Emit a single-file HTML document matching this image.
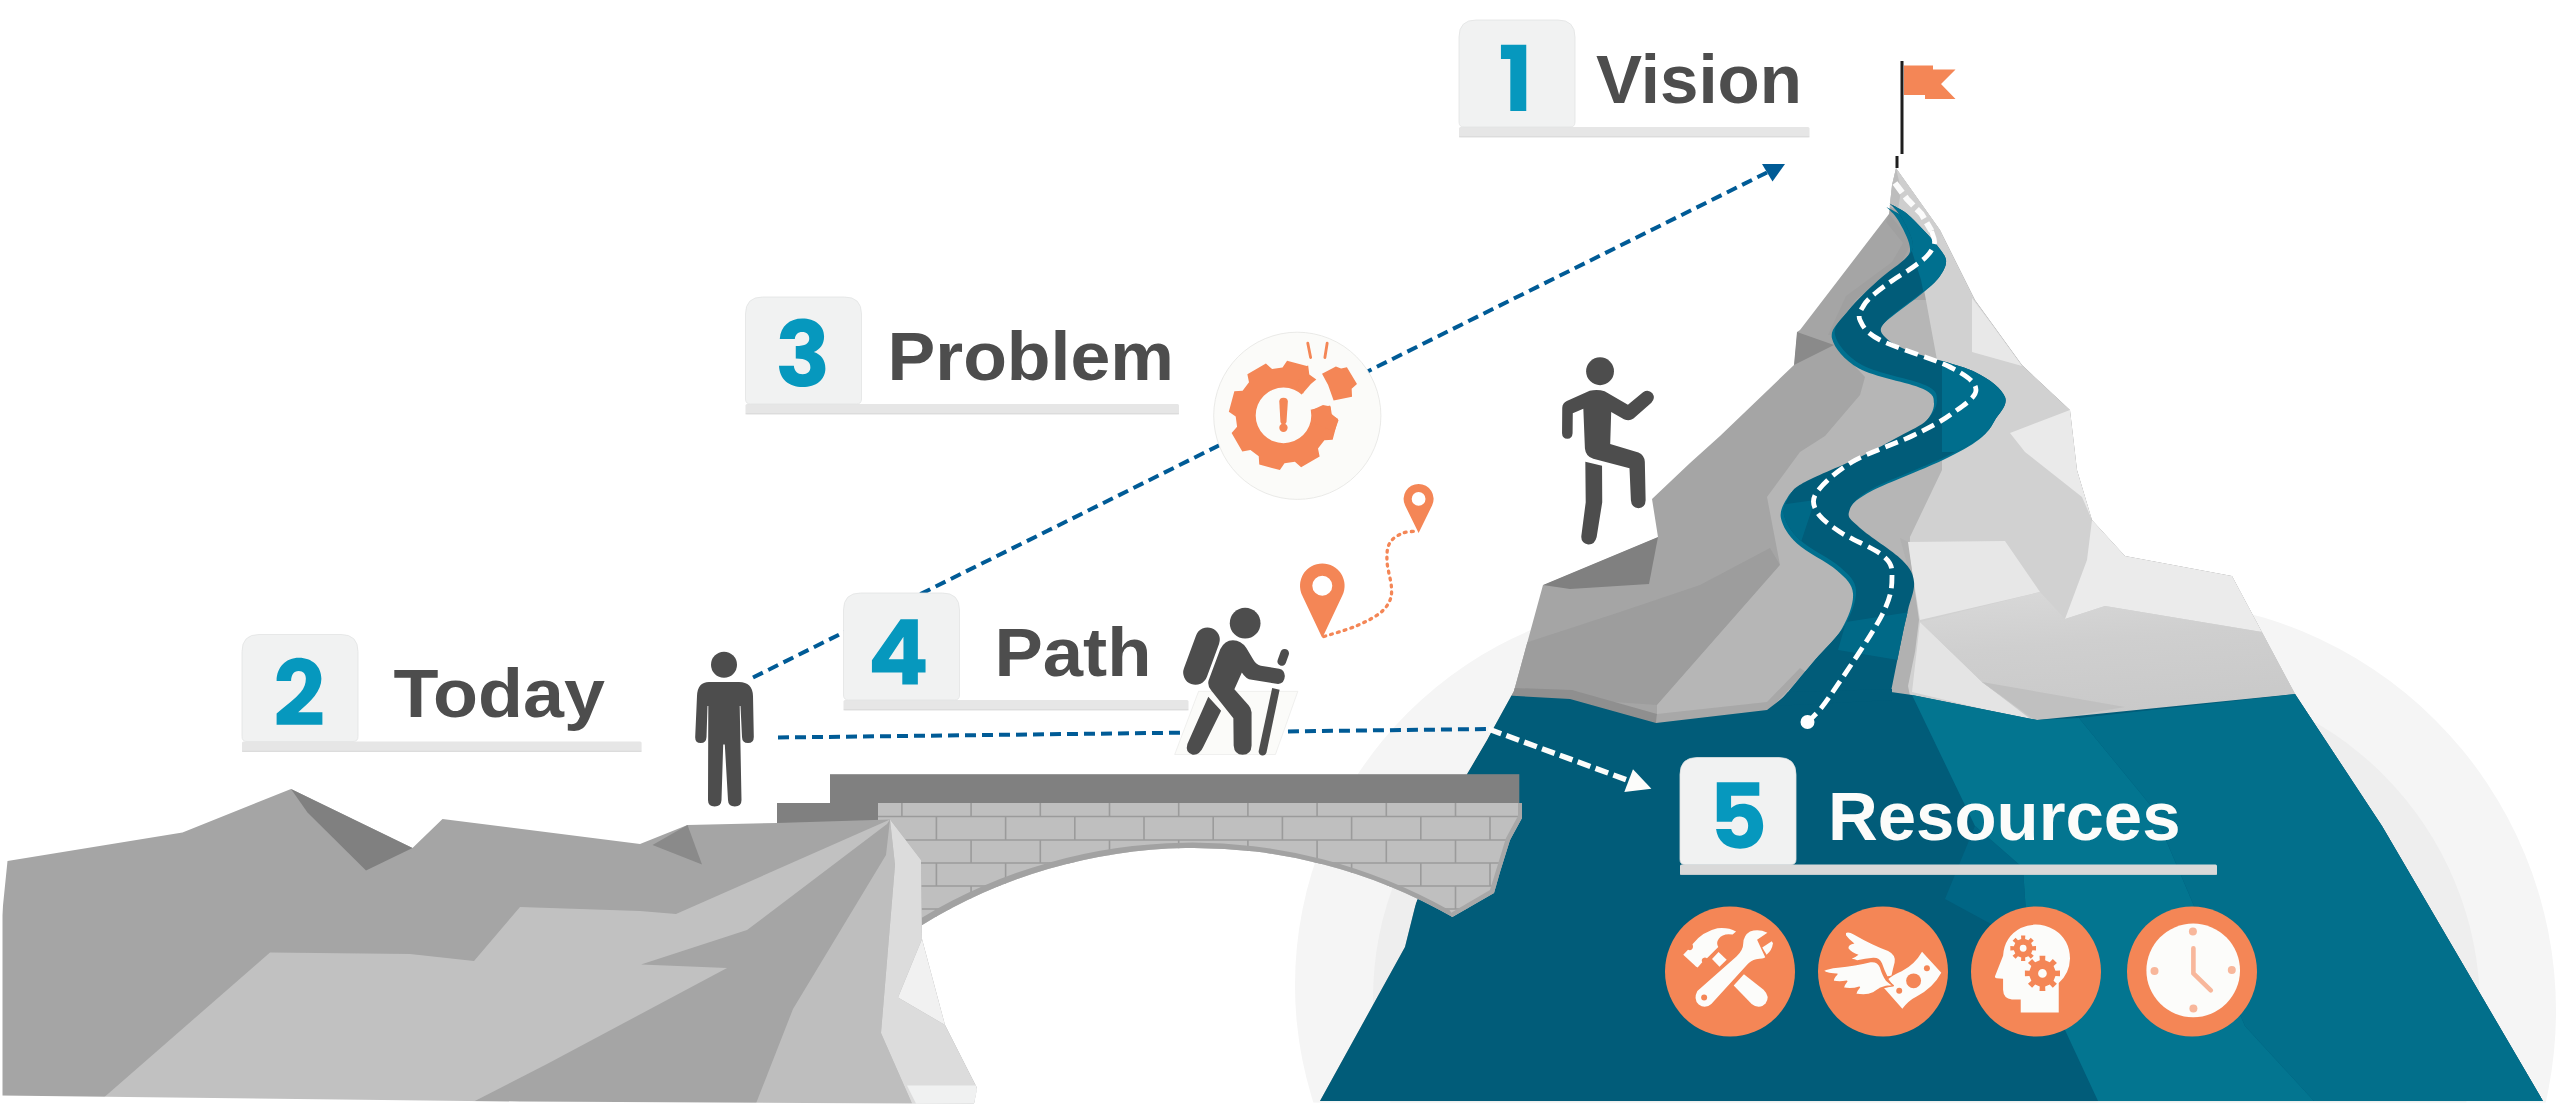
<!DOCTYPE html>
<html><head><meta charset="utf-8"><title>Vision Path</title>
<style>
html,body{margin:0;padding:0;background:#fff;}
body{width:2560px;height:1105px;overflow:hidden;font-family:"Liberation Sans",sans-serif;}
svg{display:block;}
text{font-family:"Liberation Sans",sans-serif;font-weight:bold;}
</style></head><body>
<svg width="2560" height="1105" viewBox="0 0 2560 1105">
<path d="M1680,600 L2145,600 A411,411 0 0 1 2556,1011 A411,411 0 0 1 2145,1422 L1680,1370 A385,385 0 0 1 1295,985 A385,385 0 0 1 1680,600 Z" fill="#F5F5F5"/>
<path d="M1693,678 L2150,678 A330,330 0 0 1 2480,1008 A330,330 0 0 1 2150,1338 L1693,1318 A320,320 0 0 1 1373,998 A320,320 0 0 1 1693,678 Z" fill="#EEEEEE"/>
<g id="mountain">
<polygon points="1896,168 1940,230 1975,300 2022,365 2070,410 2077,470 2092,520 2125,556 2232,576 2295,694 2382,826 2543,1101 1320,1101 1405,947 1416,903 1467,774 1487,740 1514,691 1543,585 1658,537 1652,499 1690,463 1720,436 1794,365 1797,332 1800,330 1889,214 1892,185" fill="#A5A5A5" />
<clipPath id="mclip"><polygon points="1896,168 1940,230 1975,300 2022,365 2070,410 2077,470 2092,520 2125,556 2232,576 2295,694 2382,826 2543,1101 1320,1101 1405,947 1416,903 1467,774 1487,740 1514,691 1543,585 1658,537 1652,499 1690,463 1720,436 1794,365 1797,332 1800,330 1889,214 1892,185"/></clipPath>
<g clip-path="url(#mclip)">
<polygon points="1525,643 1620,612 1700,585 1770,548 1780,565 1657,705 1570,699 1510,691" fill="#9D9D9D" />
<polygon points="1835,345 1865,377 1860,395 1825,436 1800,452 1767,497 1780,565 1657,705 1657,724 1767,712 1900,700 1950,600 1950,300 1900,300" fill="#B6B6B6" />
<polygon points="1889,214 1912,242 1900,265 1855,300 1835,335 1828,335 1846,296 1892,262 1903,243 1886,222" fill="#A0A0A0" />
<polygon points="1896,168 1912,235 1925,295 1937,360 1942,452 1942,470 1910,537 1908,600 1891,700 2037,725 2300,700 2232,576 2125,556 2092,520 2077,470 2070,410 2022,365 1975,300 1940,230" fill="#D1D1D1" />
<polygon points="1972,298 1972,352 2022,366 1990,322" fill="#E8E8E8" />
<polygon points="2070,410 2010,433 2025,452 2082,497 2092,520 2077,470" fill="#EAEAEA" />
<polygon points="1907,542 2005,541 2040,592 1920,620 1914,582" fill="#E7E7E7" />
<polygon points="2092,520 2125,556 2232,576 2262,632 2105,606 2065,619 2087,560" fill="#EBEBEB" />
<polygon points="1920,622 1912,692 2037,722 1982,682" fill="#E4E4E4" />
<polygon points="1982,682 2125,707 2037,722" fill="#C2C2C2" />
<linearGradient id="slab" x1="0" y1="0" x2="0.25" y2="1"><stop offset="0" stop-color="#D9D9D9"/><stop offset="0.45" stop-color="#CFCFCF"/><stop offset="1" stop-color="#C9C9C9"/></linearGradient>
<polygon points="2065,619 2105,606 2262,632 2300,700 2037,724 1982,682 1920,622 2040,592" fill="url(#slab)" />
<polygon points="1982,682 2125,707 2037,722" fill="#C0C0C0" />
<polygon points="1900,538 1908,542 1919,620 1915,652 1908,686 1910,696 1885,696 1900,637 1912,582" fill="#B1B1B1" />
<polygon points="1797,332 1834,345 1794,365" fill="#8A8A8A" />
<polygon points="1658,537 1543,585 1570,589 1649,584" fill="#808080" />
<polygon points="1896,168 1892,185 1889,206 1907,214 1921.5,228 1930,237 1938,248 1942,232" fill="#CECECE" />
<polygon points="1896,168 1892,185 1889,206 1898,210 1901,190" fill="#BDBDBD" />
<polygon points="1514,688 1572,690 1657,714 1656,725 1570,701 1508,697" fill="#8F8F8F" />
<polygon points="1657,714 1767,702 1800,668 1806,672 1767,712 1656,725" fill="#A8A8A8" />
<polygon points="1508,695.5 1570,699 1656,723 1767,710 1785,696 1891,692 1912,695 2037,720 2296,694 2400,850 2560,1101 1300,1101 1400,947 1416,903 1467,774 1487,740" fill="#015C79" />
<polygon points="1912,695 2037,720 2079,718 2152,807 2245,1026 2314,1101 2098,1101 2065,1030 2028,944 2023,868 1975,826" fill="#037590" />
<polygon points="1975,826 2023,868 2028,944 1945,899" fill="#006685" />
<polygon points="2079,718 2296,694 2400,850 2560,1101 2314,1101 2245,1026 2152,807" fill="#026F8B" />
</g>
<path d="M1785,696 C1790.0,690.0 1805.0,671.8 1815.0,660.0 C1825.0,648.2 1838.2,636.7 1845.0,625.0 C1851.8,613.3 1856.8,599.7 1856.0,590.0 C1855.2,580.3 1849.3,575.3 1840.0,567.0 C1830.7,558.7 1809.3,548.7 1800.0,540.0 C1790.7,531.3 1785.7,522.5 1784.0,515.0 C1782.3,507.5 1786.5,500.5 1790.0,495.0 C1793.5,489.5 1793.3,488.3 1805.0,482.0 C1816.7,475.7 1844.2,464.7 1860.0,457.0 C1875.8,449.3 1888.8,442.2 1900.0,436.0 C1911.2,429.8 1920.8,426.0 1927.0,420.0 C1933.2,414.0 1937.3,405.8 1937.0,400.0 C1936.7,394.2 1937.5,390.8 1925.0,385.0 C1912.5,379.2 1877.0,373.3 1862.0,365.0 C1847.0,356.7 1837.2,344.2 1835.0,335.0 C1832.8,325.8 1841.8,319.1 1849.0,310.0 C1856.2,300.9 1868.3,289.3 1878.0,280.5 C1887.7,271.7 1901.2,263.3 1907.0,257.0 C1912.8,250.7 1913.7,249.4 1912.7,242.7 C1911.7,236.0 1904.9,223.1 1901.0,216.6 C1897.1,210.1 1891.4,205.8 1889.5,203.6 L1889.5,203.6 C1892.4,205.3 1901.7,209.6 1907.0,213.7 C1912.3,217.8 1917.7,224.1 1921.5,228.0 C1925.3,231.9 1927.6,234.3 1930.0,237.0 C1932.4,239.7 1933.3,240.2 1936.0,244.0 C1938.7,247.8 1945.3,254.7 1946.0,260.0 C1946.7,265.3 1943.5,271.0 1940.0,276.0 C1936.5,281.0 1934.2,282.3 1925.0,290.0 C1915.8,297.7 1891.7,314.2 1885.0,322.0 C1878.3,329.8 1880.5,332.0 1885.0,337.0 C1889.5,342.0 1897.0,346.2 1912.0,352.0 C1927.0,357.8 1959.5,364.5 1975.0,372.0 C1990.5,379.5 2001.7,389.0 2005.0,397.0 C2008.3,405.0 1998.8,413.5 1995.0,420.0 C1991.2,426.5 1990.3,429.8 1982.0,436.0 C1973.7,442.2 1963.7,448.0 1945.0,457.0 C1926.3,466.0 1886.0,480.8 1870.0,490.0 C1854.0,499.2 1850.7,505.7 1849.0,512.0 C1847.3,518.3 1851.2,520.0 1860.0,528.0 C1868.8,536.0 1893.0,551.0 1902.0,560.0 C1911.0,569.0 1913.0,573.7 1914.0,582.0 C1915.0,590.3 1910.0,600.8 1908.0,610.0 C1906.0,619.2 1904.8,623.3 1902.0,637.0 C1899.2,650.7 1892.8,682.8 1891.0,692.0 Z" fill="#00708F" transform="translate(-3,3.5)"/>
<path d="M1785,696 C1790.0,690.0 1805.0,671.8 1815.0,660.0 C1825.0,648.2 1838.2,636.7 1845.0,625.0 C1851.8,613.3 1856.8,599.7 1856.0,590.0 C1855.2,580.3 1849.3,575.3 1840.0,567.0 C1830.7,558.7 1809.3,548.7 1800.0,540.0 C1790.7,531.3 1785.7,522.5 1784.0,515.0 C1782.3,507.5 1786.5,500.5 1790.0,495.0 C1793.5,489.5 1793.3,488.3 1805.0,482.0 C1816.7,475.7 1844.2,464.7 1860.0,457.0 C1875.8,449.3 1888.8,442.2 1900.0,436.0 C1911.2,429.8 1920.8,426.0 1927.0,420.0 C1933.2,414.0 1937.3,405.8 1937.0,400.0 C1936.7,394.2 1937.5,390.8 1925.0,385.0 C1912.5,379.2 1877.0,373.3 1862.0,365.0 C1847.0,356.7 1837.2,344.2 1835.0,335.0 C1832.8,325.8 1841.8,319.1 1849.0,310.0 C1856.2,300.9 1868.3,289.3 1878.0,280.5 C1887.7,271.7 1901.2,263.3 1907.0,257.0 C1912.8,250.7 1913.7,249.4 1912.7,242.7 C1911.7,236.0 1904.9,223.1 1901.0,216.6 C1897.1,210.1 1891.4,205.8 1889.5,203.6 L1889.5,203.6 C1892.4,205.3 1901.7,209.6 1907.0,213.7 C1912.3,217.8 1917.7,224.1 1921.5,228.0 C1925.3,231.9 1927.6,234.3 1930.0,237.0 C1932.4,239.7 1933.3,240.2 1936.0,244.0 C1938.7,247.8 1945.3,254.7 1946.0,260.0 C1946.7,265.3 1943.5,271.0 1940.0,276.0 C1936.5,281.0 1934.2,282.3 1925.0,290.0 C1915.8,297.7 1891.7,314.2 1885.0,322.0 C1878.3,329.8 1880.5,332.0 1885.0,337.0 C1889.5,342.0 1897.0,346.2 1912.0,352.0 C1927.0,357.8 1959.5,364.5 1975.0,372.0 C1990.5,379.5 2001.7,389.0 2005.0,397.0 C2008.3,405.0 1998.8,413.5 1995.0,420.0 C1991.2,426.5 1990.3,429.8 1982.0,436.0 C1973.7,442.2 1963.7,448.0 1945.0,457.0 C1926.3,466.0 1886.0,480.8 1870.0,490.0 C1854.0,499.2 1850.7,505.7 1849.0,512.0 C1847.3,518.3 1851.2,520.0 1860.0,528.0 C1868.8,536.0 1893.0,551.0 1902.0,560.0 C1911.0,569.0 1913.0,573.7 1914.0,582.0 C1915.0,590.3 1910.0,600.8 1908.0,610.0 C1906.0,619.2 1904.8,623.3 1902.0,637.0 C1899.2,650.7 1892.8,682.8 1891.0,692.0 Z" fill="#015C79"/>
<polygon points="1788,692 1892,689 1892,700 1775,706" fill="#015C79" />
<clipPath id="roadclip"><path d="M1785,696 C1790.0,690.0 1805.0,671.8 1815.0,660.0 C1825.0,648.2 1838.2,636.7 1845.0,625.0 C1851.8,613.3 1856.8,599.7 1856.0,590.0 C1855.2,580.3 1849.3,575.3 1840.0,567.0 C1830.7,558.7 1809.3,548.7 1800.0,540.0 C1790.7,531.3 1785.7,522.5 1784.0,515.0 C1782.3,507.5 1786.5,500.5 1790.0,495.0 C1793.5,489.5 1793.3,488.3 1805.0,482.0 C1816.7,475.7 1844.2,464.7 1860.0,457.0 C1875.8,449.3 1888.8,442.2 1900.0,436.0 C1911.2,429.8 1920.8,426.0 1927.0,420.0 C1933.2,414.0 1937.3,405.8 1937.0,400.0 C1936.7,394.2 1937.5,390.8 1925.0,385.0 C1912.5,379.2 1877.0,373.3 1862.0,365.0 C1847.0,356.7 1837.2,344.2 1835.0,335.0 C1832.8,325.8 1841.8,319.1 1849.0,310.0 C1856.2,300.9 1868.3,289.3 1878.0,280.5 C1887.7,271.7 1901.2,263.3 1907.0,257.0 C1912.8,250.7 1913.7,249.4 1912.7,242.7 C1911.7,236.0 1904.9,223.1 1901.0,216.6 C1897.1,210.1 1891.4,205.8 1889.5,203.6 L1889.5,203.6 C1892.4,205.3 1901.7,209.6 1907.0,213.7 C1912.3,217.8 1917.7,224.1 1921.5,228.0 C1925.3,231.9 1927.6,234.3 1930.0,237.0 C1932.4,239.7 1933.3,240.2 1936.0,244.0 C1938.7,247.8 1945.3,254.7 1946.0,260.0 C1946.7,265.3 1943.5,271.0 1940.0,276.0 C1936.5,281.0 1934.2,282.3 1925.0,290.0 C1915.8,297.7 1891.7,314.2 1885.0,322.0 C1878.3,329.8 1880.5,332.0 1885.0,337.0 C1889.5,342.0 1897.0,346.2 1912.0,352.0 C1927.0,357.8 1959.5,364.5 1975.0,372.0 C1990.5,379.5 2001.7,389.0 2005.0,397.0 C2008.3,405.0 1998.8,413.5 1995.0,420.0 C1991.2,426.5 1990.3,429.8 1982.0,436.0 C1973.7,442.2 1963.7,448.0 1945.0,457.0 C1926.3,466.0 1886.0,480.8 1870.0,490.0 C1854.0,499.2 1850.7,505.7 1849.0,512.0 C1847.3,518.3 1851.2,520.0 1860.0,528.0 C1868.8,536.0 1893.0,551.0 1902.0,560.0 C1911.0,569.0 1913.0,573.7 1914.0,582.0 C1915.0,590.3 1910.0,600.8 1908.0,610.0 C1906.0,619.2 1904.8,623.3 1902.0,637.0 C1899.2,650.7 1892.8,682.8 1891.0,692.0 Z"/></clipPath>
<g clip-path="url(#roadclip)">
<polygon points="1885,195 1960,195 1960,300 1925,300 1921,280 1901,217" fill="#00708F" />
<polygon points="1942,355 2020,355 2020,452 1942,452" fill="#006E8D" />
<polygon points="1780,505 1815,500 1800,545 1780,540" fill="#006987" />
<polygon points="1846,622 1910,612 1910,662 1838,650" fill="#006987" />
</g>
<path d="M1931.5,231 C1932.0,233.0 1935.2,238.8 1934.5,243.0 C1933.8,247.2 1930.7,251.9 1927.0,256.0 C1923.3,260.1 1918.2,263.4 1912.5,267.5 C1906.8,271.6 1898.8,276.2 1892.5,280.5 C1886.2,284.8 1879.8,289.4 1875.0,293.5 C1870.2,297.6 1866.5,300.6 1864.0,305.0 C1861.5,309.4 1857.3,314.2 1860.0,320.0 C1862.7,325.8 1865.0,332.2 1880.0,340.0 C1895.0,347.8 1934.0,358.7 1950.0,367.0 C1966.0,375.3 1976.0,382.0 1976.0,390.0 C1976.0,398.0 1960.7,407.3 1950.0,415.0 C1939.3,422.7 1928.3,428.2 1912.0,436.0 C1895.7,443.8 1867.8,452.7 1852.0,462.0 C1836.2,471.3 1822.8,483.7 1817.0,492.0 C1811.2,500.3 1813.2,505.3 1817.0,512.0 C1820.8,518.7 1829.2,524.8 1840.0,532.0 C1850.8,539.2 1873.3,547.8 1882.0,555.0 C1890.7,562.2 1892.0,565.0 1892.0,575.0 C1892.0,585.0 1892.3,594.8 1882.0,615.0 C1871.7,635.2 1841.7,678.8 1830.0,696.0 C1818.3,713.2 1815.0,714.3 1812.0,718.0" fill="none" stroke="#fff" stroke-width="4.8" stroke-dasharray="13.5 6.5"/>
<path d="M1895,183 L1907,199 L1921.5,214 L1931.5,231" fill="none" stroke="#FBFBFB" stroke-width="6" stroke-dasharray="12 5" stroke-dashoffset="0"/>
<circle cx="1807.5" cy="722" r="7" fill="#fff"/>
</g>
<g id="flag">
<rect x="1900.5" y="61" width="3" height="93" fill="#1E1E1E"/>
<rect x="1895.5" y="156" width="3" height="12" fill="#1E1E1E"/>
<polygon points="1904,65.5 1933,65.5 1933,69.5 1955.5,69.5 1941,84 1955.5,99 1925,99 1925,95 1904,95" fill="#F48656" />
</g>
<g id="bridge">
<path d="M877,803 L1522,803 L1522,818 L1510,840 L1500,872 L1494,893 L1452.5,917 A 518.55 518.55 0 0 0 921,925.7 L905,926 L877,860 Z" fill="#BFBFBF"/>
<clipPath id="brickclip"><path d="M877,803 L1522,803 L1522,818 L1510,840 L1500,872 L1494,893 L1452.5,917 A 518.55 518.55 0 0 0 921,925.7 L905,926 L877,860 Z"/></clipPath>
<g clip-path="url(#brickclip)" stroke="#9B9B9B" stroke-width="1.6" fill="none">
<line x1="870" y1="816.5" x2="1530" y2="816.5"/>
<line x1="870" y1="840" x2="1530" y2="840"/>
<line x1="870" y1="863" x2="1530" y2="863"/>
<line x1="870" y1="886" x2="1530" y2="886"/>
<line x1="870" y1="909" x2="1530" y2="909"/>
<line x1="870" y1="932" x2="1530" y2="932"/>
<line x1="763.5" y1="803" x2="763.5" y2="816.5"/>
<line x1="832.7" y1="803" x2="832.7" y2="816.5"/>
<line x1="901.9" y1="803" x2="901.9" y2="816.5"/>
<line x1="971.1" y1="803" x2="971.1" y2="816.5"/>
<line x1="1040.3" y1="803" x2="1040.3" y2="816.5"/>
<line x1="1109.5" y1="803" x2="1109.5" y2="816.5"/>
<line x1="1178.7" y1="803" x2="1178.7" y2="816.5"/>
<line x1="1247.9" y1="803" x2="1247.9" y2="816.5"/>
<line x1="1317.1" y1="803" x2="1317.1" y2="816.5"/>
<line x1="1386.3" y1="803" x2="1386.3" y2="816.5"/>
<line x1="1455.5" y1="803" x2="1455.5" y2="816.5"/>
<line x1="1524.7" y1="803" x2="1524.7" y2="816.5"/>
<line x1="798" y1="816.5" x2="798" y2="840"/>
<line x1="867.2" y1="816.5" x2="867.2" y2="840"/>
<line x1="936.4" y1="816.5" x2="936.4" y2="840"/>
<line x1="1005.6" y1="816.5" x2="1005.6" y2="840"/>
<line x1="1074.8" y1="816.5" x2="1074.8" y2="840"/>
<line x1="1144" y1="816.5" x2="1144" y2="840"/>
<line x1="1213.2" y1="816.5" x2="1213.2" y2="840"/>
<line x1="1282.4" y1="816.5" x2="1282.4" y2="840"/>
<line x1="1351.6" y1="816.5" x2="1351.6" y2="840"/>
<line x1="1420.8" y1="816.5" x2="1420.8" y2="840"/>
<line x1="1490" y1="816.5" x2="1490" y2="840"/>
<line x1="763.5" y1="840" x2="763.5" y2="863"/>
<line x1="832.7" y1="840" x2="832.7" y2="863"/>
<line x1="901.9" y1="840" x2="901.9" y2="863"/>
<line x1="971.1" y1="840" x2="971.1" y2="863"/>
<line x1="1040.3" y1="840" x2="1040.3" y2="863"/>
<line x1="1109.5" y1="840" x2="1109.5" y2="863"/>
<line x1="1178.7" y1="840" x2="1178.7" y2="863"/>
<line x1="1247.9" y1="840" x2="1247.9" y2="863"/>
<line x1="1317.1" y1="840" x2="1317.1" y2="863"/>
<line x1="1386.3" y1="840" x2="1386.3" y2="863"/>
<line x1="1455.5" y1="840" x2="1455.5" y2="863"/>
<line x1="1524.7" y1="840" x2="1524.7" y2="863"/>
<line x1="798" y1="863" x2="798" y2="886"/>
<line x1="867.2" y1="863" x2="867.2" y2="886"/>
<line x1="936.4" y1="863" x2="936.4" y2="886"/>
<line x1="1005.6" y1="863" x2="1005.6" y2="886"/>
<line x1="1074.8" y1="863" x2="1074.8" y2="886"/>
<line x1="1144" y1="863" x2="1144" y2="886"/>
<line x1="1213.2" y1="863" x2="1213.2" y2="886"/>
<line x1="1282.4" y1="863" x2="1282.4" y2="886"/>
<line x1="1351.6" y1="863" x2="1351.6" y2="886"/>
<line x1="1420.8" y1="863" x2="1420.8" y2="886"/>
<line x1="1490" y1="863" x2="1490" y2="886"/>
<line x1="763.5" y1="886" x2="763.5" y2="909"/>
<line x1="832.7" y1="886" x2="832.7" y2="909"/>
<line x1="901.9" y1="886" x2="901.9" y2="909"/>
<line x1="971.1" y1="886" x2="971.1" y2="909"/>
<line x1="1040.3" y1="886" x2="1040.3" y2="909"/>
<line x1="1109.5" y1="886" x2="1109.5" y2="909"/>
<line x1="1178.7" y1="886" x2="1178.7" y2="909"/>
<line x1="1247.9" y1="886" x2="1247.9" y2="909"/>
<line x1="1317.1" y1="886" x2="1317.1" y2="909"/>
<line x1="1386.3" y1="886" x2="1386.3" y2="909"/>
<line x1="1455.5" y1="886" x2="1455.5" y2="909"/>
<line x1="1524.7" y1="886" x2="1524.7" y2="909"/>
<line x1="798" y1="909" x2="798" y2="932"/>
<line x1="867.2" y1="909" x2="867.2" y2="932"/>
<line x1="936.4" y1="909" x2="936.4" y2="932"/>
<line x1="1005.6" y1="909" x2="1005.6" y2="932"/>
<line x1="1074.8" y1="909" x2="1074.8" y2="932"/>
<line x1="1144" y1="909" x2="1144" y2="932"/>
<line x1="1213.2" y1="909" x2="1213.2" y2="932"/>
<line x1="1282.4" y1="909" x2="1282.4" y2="932"/>
<line x1="1351.6" y1="909" x2="1351.6" y2="932"/>
<line x1="1420.8" y1="909" x2="1420.8" y2="932"/>
<line x1="1490" y1="909" x2="1490" y2="932"/>
</g>
<path d="M921,918.2 A523.8,523.8 0 0 1 1450,910.5 L1452.5,917 A518.55,518.55 0 0 0 921,925.7 Z" fill="#A2A2A2"/>
<path d="M1518,803 L1522,803 L1522,818 L1510,840 L1500,872 L1494,893 L1452,917 L1449,914 L1490,890 L1506,838 L1518,816 Z" fill="#A8A8A8"/>
<rect x="830" y="774.2" width="689.3" height="28.8" fill="#808080"/>
<rect x="777" y="803" width="101" height="21" fill="#808080"/>
</g>
<g id="cliff">
<polygon points="7.5,861 182.5,832.5 291,789 412.5,848 442.5,819 640,844 687.5,825 777,823 890,819.5 921,860 922,939 945,1025 977,1088 974,1103.5 0,1103.5 0,935" fill="#A5A5A5" />
<polygon points="291,789 412.5,848 366,870.5 307.5,812.5" fill="#808080" />
<polygon points="687.5,825 652.5,845 702,864.5" fill="#8A8A8A" />
<polygon points="97,1103.5 270,952.5 410,954 474,961 520,907 640,911 676,914 890,819.5 887,824 747,930 641,964.5 727,968 547,1064 470,1103.5" fill="#C1C1C1" />
<polygon points="890,819.5 895,865 881,1033 912,1103.5 756,1103.5 793,1009 886,855" fill="#BEBEBE" />
<polygon points="890,819.5 921,860 922,939 898,997.5 945,1025 977,1088 974,1103.5 912,1103.5 881,1033 895,865" fill="#DCDCDC" />
<polygon points="922,939 898,997.5 945,1025" fill="#F1F1F1" />
<polygon points="907,1085.5 976,1085.5 977,1090 974,1103.5 916,1103.5" fill="#F0F1F1" />
</g>
<g id="dashes" fill="none" stroke-width="4">
<line x1="753" y1="677.5" x2="1767" y2="172.5" stroke="#005B96" stroke-dasharray="11 6"/>
<polygon points="1785,164 1762,164 1772.5,181.5" fill="#005B96" stroke="none"/>
<line x1="778" y1="737.5" x2="1487.5" y2="729" stroke="#005B96" stroke-dasharray="11 6"/>
<line x1="1488.5" y1="729" x2="1629" y2="780.7" stroke="#FCFCFA" stroke-width="5.4" stroke-dasharray="13.5 5.5"/>
<polygon points="1651.4,788.7 1624.3,792 1633,769.3" fill="#FCFCFA" stroke="none"/>
</g>
<g class="label">
<rect x="1459" y="127" width="350.5" height="10.3" rx="1.5" fill="#E6E6E6"/>
<rect x="1459" y="136.3" width="350.5" height="1" fill="#D4D4D4" opacity="0.8"/>
<path d="M1459,37 Q1459,20 1476,20 L1558,20 Q1575,20 1575,37 L1575,122 Q1575,127 1570,127 L1464,127 Q1459,127 1459,122 Z" fill="#F1F2F2" stroke="#E2E3E3" stroke-width="0.8"/>
<path transform="translate(1440,0) scale(0.156250)" d="M390,287 L552,287 L552,710 L450,710 L450,378 L390,378 Z" fill="#0698BE" fill-rule="evenodd"/>
<text x="1596" y="102.6" font-size="68" fill="#4D4D4D" textLength="206" lengthAdjust="spacingAndGlyphs">Vision</text>
</g>
<g class="label">
<rect x="242" y="741.5" width="399.6" height="10.3" rx="1.5" fill="#E6E6E6"/>
<rect x="242" y="750.8" width="399.6" height="1" fill="#D4D4D4" opacity="0.8"/>
<path d="M242,651.5 Q242,634.5 259,634.5 L341,634.5 Q358,634.5 358,651.5 L358,736.5 Q358,741.5 353,741.5 L247,741.5 Q242,741.5 242,736.5 Z" fill="#F1F2F2" stroke="#E2E3E3" stroke-width="0.8"/>
<path transform="translate(262,648) scale(0.076923)" d="M190,428 C190,250 310,128 480,128 C650,128 772,240 772,400 C772,560 640,690 470,835 L785,835 L785,998 L190,998 L190,850 C330,740 430,660 500,580 C550,520 570,460 570,400 C570,335 535,298 478,298 C410,298 380,350 378,428 Z" fill="#0698BE" fill-rule="evenodd"/>
<text x="393.5" y="717.1" font-size="68" fill="#4D4D4D" textLength="211.5" lengthAdjust="spacingAndGlyphs">Today</text>
</g>
<g class="label">
<rect x="745.5" y="404" width="433.5" height="10.3" rx="1.5" fill="#E6E6E6"/>
<rect x="745.5" y="413.3" width="433.5" height="1" fill="#D4D4D4" opacity="0.8"/>
<path d="M745.5,314 Q745.5,297 762.5,297 L844.5,297 Q861.5,297 861.5,314 L861.5,399 Q861.5,404 856.5,404 L750.5,404 Q745.5,404 745.5,399 Z" fill="#F1F2F2" stroke="#E2E3E3" stroke-width="0.8"/>
<path transform="translate(765,310) scale(0.076923)" d="M192,378 C205,210 320,112 485,112 C650,112 768,205 768,345 C768,445 715,515 635,545 C730,575 785,655 785,760 C785,905 665,1002 490,1002 C310,1002 190,900 182,725 L375,725 C382,795 420,835 490,835 C555,835 590,798 590,745 C590,670 535,632 400,632 L400,468 C525,468 575,435 575,370 C575,318 540,285 485,285 C425,285 392,320 388,378 Z" fill="#0698BE" fill-rule="evenodd"/>
<text x="887.5" y="379.6" font-size="68" fill="#4D4D4D" textLength="286.5" lengthAdjust="spacingAndGlyphs">Problem</text>
</g>
<g class="label">
<rect x="843.5" y="700" width="345" height="10.3" rx="1.5" fill="#E6E6E6"/>
<rect x="843.5" y="709.3" width="345" height="1" fill="#D4D4D4" opacity="0.8"/>
<path d="M843.5,610 Q843.5,593 860.5,593 L942.5,593 Q959.5,593 959.5,610 L959.5,695 Q959.5,700 954.5,700 L848.5,700 Q843.5,700 843.5,695 Z" fill="#F1F2F2" stroke="#E2E3E3" stroke-width="0.8"/>
<path transform="translate(860,608) scale(0.076923)" d="M528,145 L752,145 L752,665 L852,665 L852,840 L752,840 L752,995 L550,995 L550,840 L155,840 L155,680 Z M565,375 L372,665 L565,665 Z" fill="#0698BE" fill-rule="evenodd"/>
<text x="994.5" y="675.6" font-size="68" fill="#4D4D4D" textLength="157" lengthAdjust="spacingAndGlyphs">Path</text>
</g>
<g class="label">
<rect x="1680" y="864.5" width="537" height="10.3" rx="1.5" fill="#D9D9D9"/>
<rect x="1680" y="873.8" width="537" height="1" fill="#D4D4D4" opacity="0.8"/>
<path d="M1680,774.5 Q1680,757.5 1697,757.5 L1779,757.5 Q1796,757.5 1796,774.5 L1796,859.5 Q1796,864.5 1791,864.5 L1685,864.5 Q1680,864.5 1680,859.5 Z" fill="#F1F2F2" stroke="#E2E3E3" stroke-width="0.8"/>
<path transform="translate(1702,772) scale(0.076923)" d="M192,132 L745,132 L745,310 L378,310 L378,468 C420,432 470,412 530,412 C690,412 795,530 795,700 C795,880 675,998 495,998 C320,998 200,900 183,742 L380,742 C395,800 430,828 490,828 C560,828 600,775 600,700 C600,625 560,578 490,578 C440,578 405,602 388,648 L192,648 Z" fill="#0698BE" fill-rule="evenodd"/>
<text x="1828" y="840.1" font-size="68" fill="#FCFCFA" textLength="352.5" lengthAdjust="spacingAndGlyphs">Resources</text>
</g>
<g id="today-person" fill="#4D4D4D" stroke="none">
<circle cx="724" cy="664.7" r="13"/>
<path d="M709,682 L739,682 Q752.5,682 753,696 L753.8,737 Q753.8,743 748,743 Q742.2,743 742,737 L740.5,706 L739.7,706 L741.5,800 Q741.5,806.5 734.8,806.5 Q728.2,806.5 728,800 L724.8,744.5 L723.2,744.5 L721.5,800 Q721.3,806.5 714.6,806.5 Q708,806.5 708,800 L708.3,706 L707.5,706 L706.5,737 Q706.3,743 700.7,743 Q695,743 695.2,737 L697,696 Q697.5,682 709,682 Z"/>
</g>
<g id="climber" transform="translate(1530,340) scale(0.199005)" fill="#4D4D4D" stroke="none">
<circle cx="352" cy="157" r="70"/>
<path d="M300,255 Q340,245 375,258 L492,325 L568,262 Q595,245 615,268 Q632,292 610,315 L520,395 Q498,410 472,398 L408,362 L403,522 L545,565 Q575,578 577,612 L581,805 Q580,842 545,845 Q510,842 507,805 L500,645 L318,597 Q280,585 276,545 L268,345 L215,368 L214,468 Q212,495 188,496 Q162,495 161,468 L162,340 Q163,318 185,307 Z"/>
<path d="M278,612 L362,632 L363,815 L335,990 Q325,1030 292,1028 Q255,1020 258,985 L280,815 Z"/>
</g>
<g id="hiker" transform="translate(1165,600) scale(0.149254)">
<path d="M225,612 L890,612 L740,1035 L65,1035 Z" fill="#FBFBF9" stroke="#E6E6E4" stroke-width="4"/>
<g fill="#4D4D4D" stroke="none">
<circle cx="537" cy="155" r="103"/>
<path d="M285,266 L204,486" stroke="#4D4D4D" stroke-width="164" stroke-linecap="round" fill="none"/>
<path d="M455,270 Q400,270 370,330 L292,540 Q283,575 310,607 L458,792 L460,975 Q465,1037 520,1037 Q578,1037 580,975 L580,752 Q578,725 560,705 L465,598 L515,485 Q542,530 582,535 L758,562 Q800,562 803,510 Q800,465 765,460 L642,440 Q612,435 592,400 L545,322 Q510,270 455,270 Z"/>
<path d="M290,648 L376,742 L256,985 Q230,1042 185,1036 Q133,1022 150,965 Z"/>
<path d="M802,357 L782,412" stroke="#4D4D4D" stroke-width="58" stroke-linecap="round" fill="none"/>
<path d="M718,590 L768,602 L680,1022 Q672,1045 650,1042 Q625,1035 628,1010 Z"/>
</g></g>
<path d="M1322.3,638 L1302.14,595.33 A22.3,22.3 0 1 1 1342.46,595.33 Z M1332.3,585.8 A10,10 0 1 0 1312.3,585.8 A10,10 0 1 0 1332.3,585.8 Z" fill="#F48656" fill-rule="evenodd"/>
<path d="M1418.6,533 L1405.13,505.50 A15,15 0 1 1 1432.07,505.50 Z M1425.5,498.9 A6.9,6.9 0 1 0 1411.7,498.9 A6.9,6.9 0 1 0 1425.5,498.9 Z" fill="#F48656" fill-rule="evenodd"/>
<path d="M1324,636.5 C1329.2,634.8 1345.8,630.3 1355.0,626.5 C1364.2,622.7 1373.2,618.0 1379.0,613.8 C1384.8,609.5 1387.5,605.5 1389.6,601.0 C1391.7,596.5 1391.8,593.3 1391.4,586.7 C1391.0,580.1 1387.3,568.5 1387.0,561.3 C1386.7,554.0 1387.0,547.9 1389.6,543.2 C1392.1,538.5 1397.6,535.3 1402.3,533.3 C1407.0,531.3 1415.1,531.4 1417.7,531.0" fill="none" stroke="#F48656" stroke-width="3.3" stroke-dasharray="1.9 5.1" stroke-linecap="round"/>
<g id="gear">
<circle cx="1297.3" cy="415.8" r="83.6" fill="#FBFBF9" stroke="#E4E4E2" stroke-width="0.8"/>
<clipPath id="gearclip"><polygon points="1283.5,415.4 1414.7,264.5 1180.0,200.0 1180.0,600.0 1500.0,600.0 1479.1,373.8"/></clipPath>
<path d="M1331.29,414.40 L1338.18,418.98 L1332.65,439.64 L1324.39,440.16 L1318.00,448.48 L1319.63,456.60 L1301.11,467.29 L1294.90,461.82 L1284.50,463.19 L1279.92,470.08 L1259.26,464.55 L1258.74,456.29 L1250.42,449.90 L1242.30,451.53 L1231.61,433.01 L1237.08,426.80 L1235.71,416.40 L1228.82,411.82 L1234.35,391.16 L1242.61,390.64 L1249.00,382.32 L1247.37,374.20 L1265.89,363.51 L1272.10,368.98 L1282.50,367.61 L1287.08,360.72 L1307.74,366.25 L1308.26,374.51 L1316.58,380.90 L1324.70,379.27 L1335.39,397.79 L1329.92,404.00 Z M1311.3,415.4 A27.8,27.8 0 1 0 1255.7,415.4 A27.8,27.8 0 1 0 1311.3,415.4 Z" fill="#F48656" fill-rule="evenodd" clip-path="url(#gearclip)"/>
<g transform="translate(1190,310) scale(0.189970)" fill="#F48656">
<path d="M600,300 L622,292 L628,340 L665,366 L640,385 L604,398 L596,440 L560,400 Z"/>
<path d="M640,528 L700,500 L740,508 L746,548 L782,580 L760,640 L660,600 Z"/>
<path d="M695,335 L768,297 L795,308 L826,302 L879,390 L851,415 L853,456 L756,476 L727,395 Z"/>
<path d="M470,482 Q470,462 492,462 Q515,462 515,482 L508,590 Q506,602 492,602 Q478,602 476,590 Z"/>
<circle cx="492" cy="620" r="22"/>
<path d="M620,175 L635,250 M722,175 L710,250" stroke="#F48656" stroke-width="15" stroke-linecap="round" fill="none"/>
</g>
</g>
<circle cx="1730" cy="971.5" r="65" fill="#F48656"/>
<circle cx="1883" cy="971.5" r="65" fill="#F48656"/>
<circle cx="2036" cy="971.5" r="65" fill="#F48656"/>
<circle cx="2192" cy="971.5" r="65" fill="#F48656"/>
<circle cx="2193.2" cy="970.4" r="46.8" fill="#FCFCFA"/>
<circle cx="2192.9" cy="931.6" r="4" fill="#F8B79B"/>
<circle cx="2193.4" cy="1008.4" r="4" fill="#F8B79B"/>
<circle cx="2154.5" cy="971.1" r="4" fill="#F8B79B"/>
<circle cx="2231.8" cy="970" r="4" fill="#F8B79B"/>
<path d="M2193.4,948.3 L2193.4,973.4 L2210.8,990.4" fill="none" stroke="#F8B79B" stroke-width="4.6" stroke-linecap="round" stroke-linejoin="round"/>
<g transform="translate(1655,896) scale(0.135747)" fill="#FCFCFA">
<path d="M420,465 L468,413 L528,470 L475,522 Z"/>
<path d="M580,660 L655,576 L800,690 Q850,740 815,790 Q770,840 712,795 Z"/>
<path d="M208,432 L243,396 Q262,403 272,392 Q286,378 276,355 Q350,262 460,238 Q540,230 597,262 L572,284 Q500,272 470,315 Q448,345 466,375 L383,458 Q370,449 356,456 Q338,466 348,488 L314,526 Q300,520 290,508 Z"/>
<path d="M312,700 L600,445 Q650,400 650,350 Q652,290 700,262 Q760,238 828,270 L752,322 L812,452 Q800,462 745,466 Q705,475 680,505 L415,795 Q370,835 322,800 Q280,760 312,700 Z"/>
<path d="M790,380 L860,334 L869,348 Q862,400 822,433 Z"/>
<circle cx="362" cy="748" r="22" fill="#F48656"/>
</g>
<g transform="translate(1808,896) scale(0.135747)" fill="#FCFCFA">
<path d="M560,678 Q590,672 628,660 L592,612 Q620,585 690,555 Q790,500 840,410 L982,566 Q920,680 800,740 Q740,770 695,830 Z"/>
<circle cx="778" cy="625" r="55" fill="#F48656"/><circle cx="876" cy="532" r="22" fill="#F48656"/><circle cx="672" cy="698" r="22" fill="#F48656"/>
<path d="M280,272 Q300,262 340,285 Q470,360 590,405 Q650,435 638,490 Q625,540 615,585 Q600,590 585,592 Q560,540 545,495 Q525,452 480,455 Q420,462 362,474 Q345,465 322,462 Q350,452 372,433 Q320,415 298,385 Q295,360 342,350 Q300,320 280,290 Z"/>
<path stroke="#F48656" stroke-width="12" stroke-linejoin="round" d="M115,548 Q140,530 220,522 Q350,510 460,482 Q515,475 535,525 Q555,590 580,622 Q600,640 628,660 Q570,665 530,682 Q500,700 480,715 Q430,740 350,724 Q352,700 378,672 Q320,692 258,678 Q262,655 285,628 Q230,640 185,628 Q182,605 212,576 Q150,575 115,555 Z"/>
</g>
<g transform="translate(1961,896) scale(0.135747)">
<path d="M310,440 Q318,300 440,235 Q560,180 690,250 Q800,320 803,460 Q800,570 720,640 L720,858 L440,858 L440,762 L375,762 Q312,755 310,690 L310,610 L262,606 Q245,602 252,588 Z" fill="#FCFCFA"/>
<path d="M526.55,370.80 L552.70,369.24 L552.70,400.76 L526.55,399.20 L516.51,423.43 L536.11,440.82 L513.82,463.11 L496.43,443.51 L472.20,453.55 L473.76,479.70 L442.24,479.70 L443.80,453.55 L419.57,443.51 L402.18,463.11 L379.89,440.82 L399.49,423.43 L389.45,399.20 L363.30,400.76 L363.30,369.24 L389.45,370.80 L399.49,346.57 L379.89,329.18 L402.18,306.89 L419.57,326.49 L443.80,316.45 L442.24,290.30 L473.76,290.30 L472.20,316.45 L496.43,326.49 L513.82,306.89 L536.11,329.18 L516.51,346.57 Z M483,385 A25,25 0 1 0 433,385 A25,25 0 1 0 483,385 Z" fill="#F48656" fill-rule="evenodd"/>
<path d="M695.96,550.13 L729.22,548.49 L729.22,591.51 L695.96,589.87 L681.91,623.80 L706.58,646.17 L676.17,676.58 L653.80,651.91 L619.87,665.96 L621.51,699.22 L578.49,699.22 L580.13,665.96 L546.20,651.91 L523.83,676.58 L493.42,646.17 L518.09,623.80 L504.04,589.87 L470.78,591.51 L470.78,548.49 L504.04,550.13 L518.09,516.20 L493.42,493.83 L523.83,463.42 L546.20,488.09 L580.13,474.04 L578.49,440.78 L621.51,440.78 L619.87,474.04 L653.80,488.09 L676.17,463.42 L706.58,493.83 L681.91,516.20 Z M632,570 A32,32 0 1 0 568,570 A32,32 0 1 0 632,570 Z" fill="#F48656" fill-rule="evenodd"/>
</g>
<polygon points="0,1095.5 520,1101.5 980,1104 980,1106 0,1106" fill="#fff" />
<rect x="0" y="850" width="2.5" height="260" fill="#fff"/>
<rect x="1000" y="1102.6" width="1560" height="3" fill="#fff"/>
</svg>
</body></html>
